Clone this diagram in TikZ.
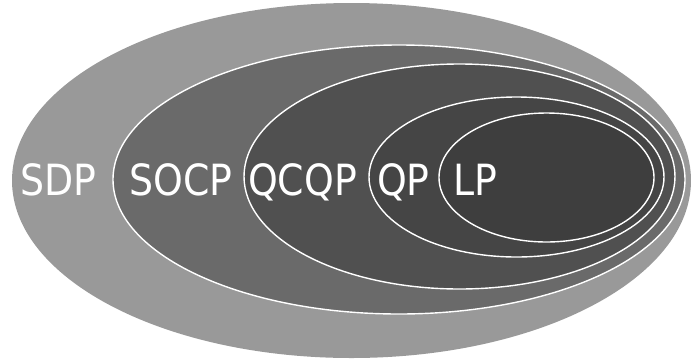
\documentclass[tikz,border=0pt]{standalone}
\usepackage{fontspec}
\setmainfont{DejaVu Sans}[FakeStretch=0.88]
\begin{document}
\begin{tikzpicture}[x=1pt,y=-1pt,
  ring/.style={draw=white,line width=1.4pt},
  lbl/.style={text=white,font=\fontsize{43}{43}\selectfont,inner sep=0pt,anchor=base west}]
\useasboundingbox (0,0) rectangle (691,360);
\fill[fill={rgb,255:red,153;green,153;blue,153}] (351.5,180.5) ellipse [x radius=339.5,y radius=177.5];
\path[ring,fill={rgb,255:red,106;green,106;blue,106}] (399,179.5) ellipse [x radius=286,y radius=134.5];
\path[ring,fill={rgb,255:red,80;green,80;blue,80}] (459.5,176.5) ellipse [x radius=215.5,y radius=112.5];
\path[ring,fill={rgb,255:red,69;green,69;blue,69}] (516.5,177) ellipse [x radius=147.5,y radius=80];
\path[ring,fill={rgb,255:red,62;green,62;blue,62}] (546.5,177.5) ellipse [x radius=107.5,y radius=64.5];
\node[lbl] (sdp) at (20,195) {SDP};
\node[lbl] (socp) at (129,195) {SOCP};
\node[lbl] (qcqp) at (248,195) {QCQP};
\node[lbl] (qp) at (377,195) {QP};
\node[lbl] (lp) at (453,195) {LP};
\end{tikzpicture}
\end{document}
